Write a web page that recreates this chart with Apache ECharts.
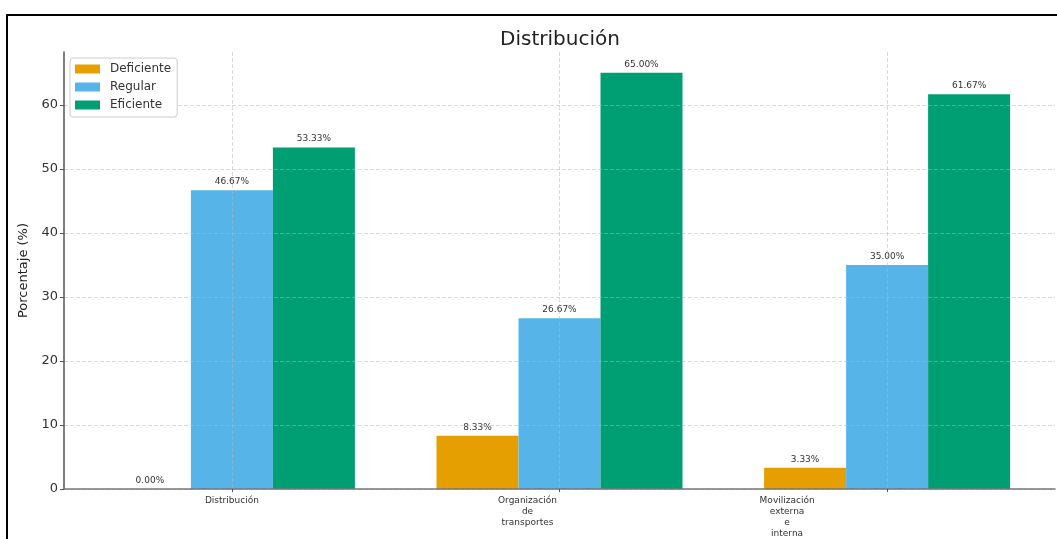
<!DOCTYPE html>
<html>
<head>
<meta charset="utf-8">
<script src="https://cdn.jsdelivr.net/npm/echarts@6/dist/echarts.min.js"></script>
<style>
  html, body { margin: 0; padding: 0; background: #ffffff; }
  #chart { width: 1057px; height: 539px; }
</style>
</head>
<body>
<div id="chart"></div>
<script>
// Categories and percentages per rating level
const categories = ['Distribución', 'Organización\nde\ntransportes', 'Movilización\nexterna\ne\ninterna'];
const seriesNames = ['Deficiente', 'Regular', 'Eficiente'];
const deficiente = [0.00, 8.33, 3.33];
const regular = [46.67, 26.67, 35.00];
const eficiente = [53.33, 65.00, 61.67];
const yTicks = [0, 10, 20, 30, 40, 50, 60];

const colors = ['#E69F00', '#56B4E9', '#009E73'];
const font = 'DejaVu Sans';
const gridLine = { color: 'rgba(180,180,180,0.5)', type: 'dashed', width: 1 };

// Category positions on a numeric x axis (one unit per group)
const catPos = categories.map((_, i) => i);

// Horizontal nudge per tick label (extra right padding shifts the centred text left)
const labelShift = [0, 64, 200];

const chart = echarts.init(document.getElementById('chart'), null, { renderer: 'canvas' });

function barSeries(name, data, color) {
  return {
    name: name,
    type: 'bar',
    data: data.map((v, i) => [catPos[i], v]),
    barWidth: 82,
    barGap: '0%',
    itemStyle: { color: color },
    label: {
      show: true,
      position: 'top',
      distance: 4,
      formatter: p => p.value[1].toFixed(2) + '%',
      fontFamily: font,
      fontSize: 9,
      color: '#333'
    }
  };
}

const richStyles = {};
labelShift.forEach((s, i) => {
  richStyles['c' + i] = {
    fontFamily: font, fontSize: 9, color: '#333', lineHeight: 11,
    padding: [0, s, 0, 0]
  };
});

chart.setOption({
  backgroundColor: '#ffffff',
  animation: false,
  title: {
    text: 'Distribución',
    left: 555,
    textAlign: 'center',
    top: 25,
    textStyle: { fontFamily: font, fontSize: 20, fontWeight: 'normal', color: '#222' }
  },
  legend: {
    orient: 'vertical',
    left: 70,
    top: 58,
    z: 20,
    data: seriesNames,
    itemWidth: 25,
    itemHeight: 9,
    itemGap: 6,
    padding: [5, 6, 6, 5],
    borderColor: '#cccccc',
    borderWidth: 1,
    borderRadius: 3,
    backgroundColor: '#ffffff',
    textStyle: { fontFamily: font, fontSize: 12, color: '#333', padding: [0, 0, 0, 5] },
    icon: 'rect'
  },
  grid: { left: 64, right: 2, top: 52, bottom: 50 },
  xAxis: {
    type: 'value',
    min: -0.5125,
    max: 2.5125,
    z: 5,
    axisLine: { show: true, onZero: false, lineStyle: { color: '#777', width: 1.5 } },
    axisTick: { show: true, length: 3, customValues: catPos, lineStyle: { color: '#555' } },
    splitLine: { show: true, lineStyle: gridLine },
    axisLabel: {
      margin: 6,
      customValues: catPos,
      formatter: v => {
        const i = Math.round(v);
        return categories[i].split('\n').map(l => '{c' + i + '|' + l + '}').join('\n');
      },
      rich: richStyles
    }
  },
  yAxis: {
    type: 'value',
    min: 0,
    max: 68.25,
    z: 5,
    name: 'Porcentaje (%)',
    nameLocation: 'middle',
    nameGap: 29,
    nameTextStyle: { fontFamily: font, fontSize: 13, color: '#222' },
    axisLine: { show: true, onZero: false, lineStyle: { color: '#555', width: 1.5 } },
    axisTick: { show: true, length: 4, customValues: yTicks, lineStyle: { color: '#555' } },
    axisLabel: {
      fontFamily: font, fontSize: 13, color: '#333', margin: 6,
      customValues: yTicks
    },
    splitLine: { show: true, lineStyle: gridLine }
  },
  graphic: [{
    type: 'rect',
    z: 100,
    silent: true,
    shape: { x: 7, y: 15, width: 1200, height: 700 },
    style: { fill: null, stroke: '#000', lineWidth: 2 }
  }],
  series: [
    barSeries(seriesNames[0], deficiente, colors[0]),
    barSeries(seriesNames[1], regular, colors[1]),
    barSeries(seriesNames[2], eficiente, colors[2])
  ]
});
</script>
</body>
</html>
